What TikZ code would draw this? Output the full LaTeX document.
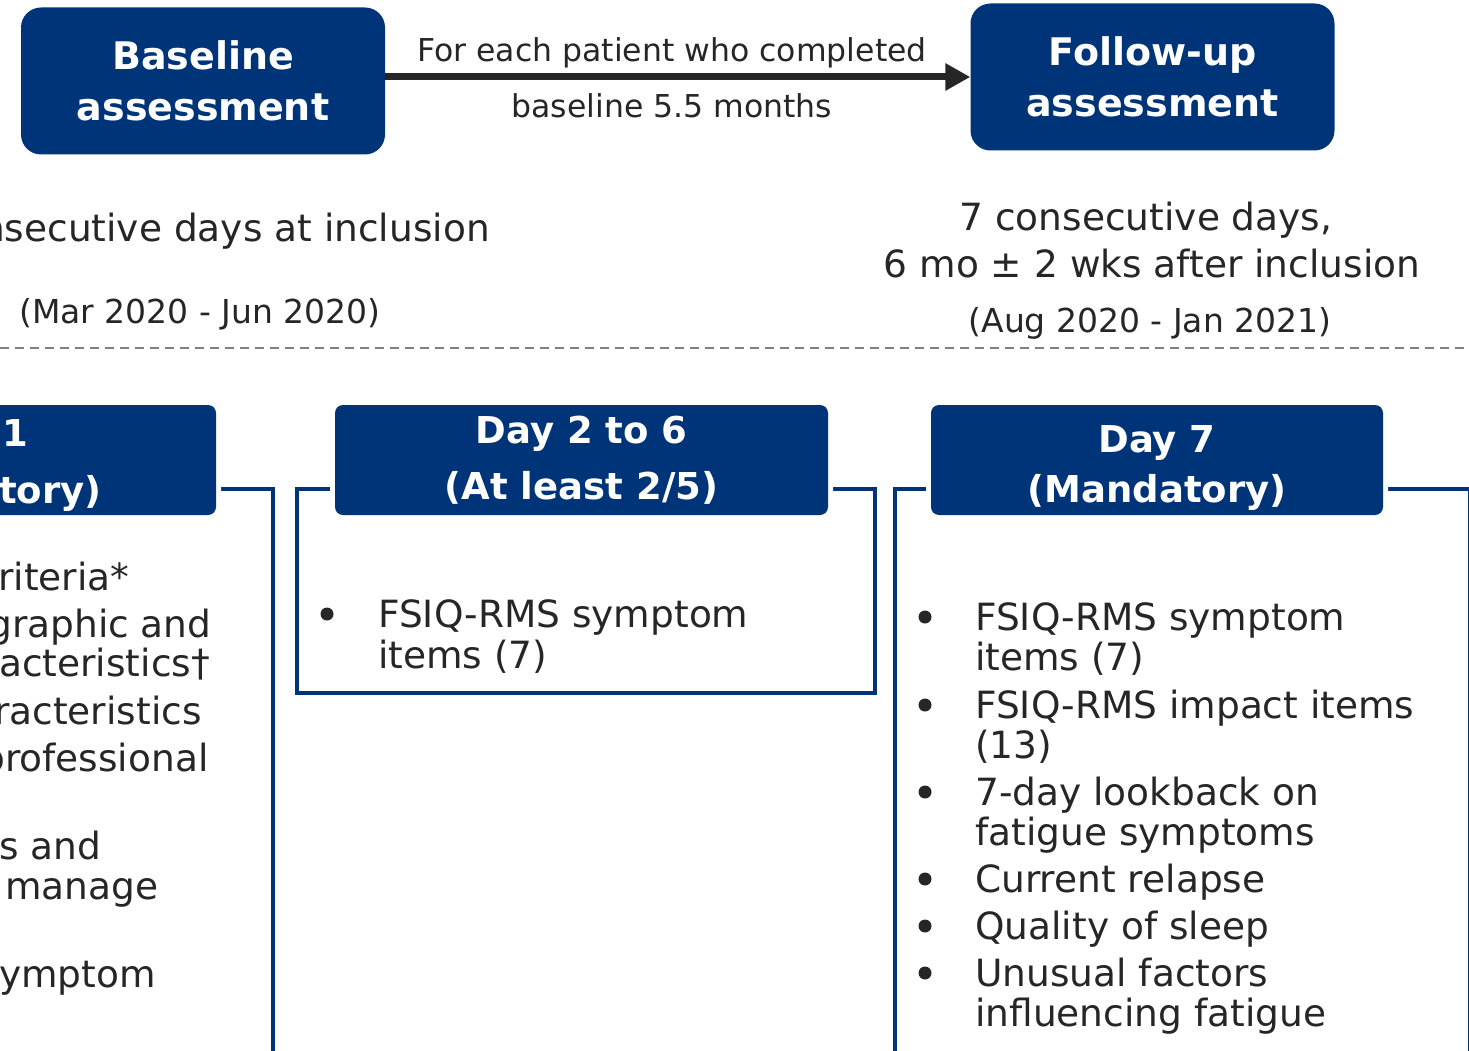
\documentclass[tikz,border=0pt]{standalone}
\usepackage{fontspec}
\setmainfont{DejaVu Sans}
\usetikzlibrary{arrows.meta}

\definecolor{navy}{RGB}{0,52,120}
\definecolor{ink}{RGB}{38,38,38}
\definecolor{rulegray}{RGB}{128,128,128}
\newcommand{\fsz}[2]{\fontsize{#1}{#2}\selectfont}

\begin{document}
\begin{tikzpicture}[x=1pt,y=1pt,yscale=-1,
  assess/.style={rounded corners=20pt, fill=navy, text=white, inner sep=0pt,
    minimum width=364pt, minimum height=147pt, align=center, font=\fsz{38}{51}\bfseries},
  dayhead/.style={rounded corners=8pt, fill=navy, text=white, inner sep=0pt,
    minimum width=493pt, minimum height=110pt, align=center, font=\fsz{37}{56}\bfseries,
    preaction={draw=white, line width=10pt}},
  headtxt/.style={text=white, inner sep=0pt, font=\fsz{37}{50}\bfseries},
  colframe/.style={draw=navy, line width=4.5pt},
  bodytxt/.style={text=ink, inner sep=0pt, font=\fsz{37.5}{40}},
  datetxt/.style={text=ink, inner sep=0pt, font=\fsz{33}{40}},
  arrowtxt/.style={text=ink, inner sep=0pt, font=\fsz{31.5}{40}},
  arr/.style={draw=ink, line width=7pt, -{Triangle[length=25pt,width=26pt]}}
]
\useasboundingbox (0,0) rectangle (1469,1051);
\clip (0,0) rectangle (1469,1051);

%Shape: Baseline / Follow-up boxes
\node[assess] (base) at (203,81) {Baseline\\assessment};
\node[assess] (follow) at (1152.5,77) {Follow-up\\assessment};
%Straight Lines: arrow between boxes
\draw[arr] (base.east |- follow.west) -- (follow.west);

% Text Node
\node[arrowtxt, anchor=base] (each) at (672,62) {For each patient who completed};
% Text Node
\node[arrowtxt, anchor=base] (months) at (672,118) {baseline 5.5 months};

% Text Node
\node[bodytxt, anchor=base east] (incl) at (490,241) {nsecutive days at inclusion};
% Text Node
\node[datetxt, anchor=base] (mar) at (200,323) {(Mar 2020 - Jun 2020)};
% Text Node
\node[bodytxt, anchor=base] (seven) at (1146,230) {7 consecutive days,};
% Text Node
\node[bodytxt, anchor=base] (sixmo) at (1152,277) {6 mo ± 2 wks after inclusion};
% Text Node
\node[datetxt, anchor=base] (aug) at (1150,332) {(Aug 2020 - Jan 2021)};

%Straight Lines: separator
\draw[rulegray, line width=2.2pt, dash pattern=on 9pt off 6pt] (0,348) -- (1469,348);

%Shape: column frames
\draw[colframe] (-400,489) rectangle (273,1100);
\draw[colframe] (297,489) rectangle (875,693);
\draw[colframe] (895,489) rectangle (1470,1100);

%Shape: day headers
\node[dayhead, minimum width=500pt] (day1) at (-34,460) {};
\node[dayhead] (day26) at (581.5,460) {Day 2 to 6\\(At least 2/5)};
\node[dayhead, minimum width=452pt] (day7) at (1157,460) {};

% Text Node
\node[headtxt, anchor=base west] (one) at (2,446) {1};
\node[headtxt, anchor=base west] (tory) at (-1,503) {tory)};
% Text Node
\node[headtxt, align=center, anchor=base] (d7) at (1157,502) {Day 7\\(Mandatory)};

% left column items
\foreach \x/\y/\itemtxt in {-2/590/riteria*, -12/637/graphic and, -1/676/acteristics†,
    -6/724/racteristics, -19/771/professional, -1/859/s and, 5/899/manage, -1/987/ymptom}
  \node[bodytxt, anchor=base west] (l\y) at (\x,\y) {\itemtxt};

% middle column items
\fill[ink] (327,614) circle (6.5);
\node[bodytxt, anchor=base west] (m1) at (378,627) {FSIQ-RMS symptom};
\node[bodytxt, anchor=base west] (m2) at (378,668) {items (7)};

% right column items
\foreach \y in {630,718,805,892,939,986}
  \fill[ink] (925,\y-13) circle (6.5);
\foreach \y/\itemtxt in {630/FSIQ-RMS symptom, 670/items (7), 718/FSIQ-RMS impact items,
    758/(13), 805/7-day lookback on, 845/fatigue symptoms, 892/Current relapse,
    939/Quality of sleep, 986/Unusual factors, 1026/influencing fatigue}
  \node[bodytxt, anchor=base west] (r\y) at (975,\y) {\itemtxt};
\end{tikzpicture}
\end{document}
